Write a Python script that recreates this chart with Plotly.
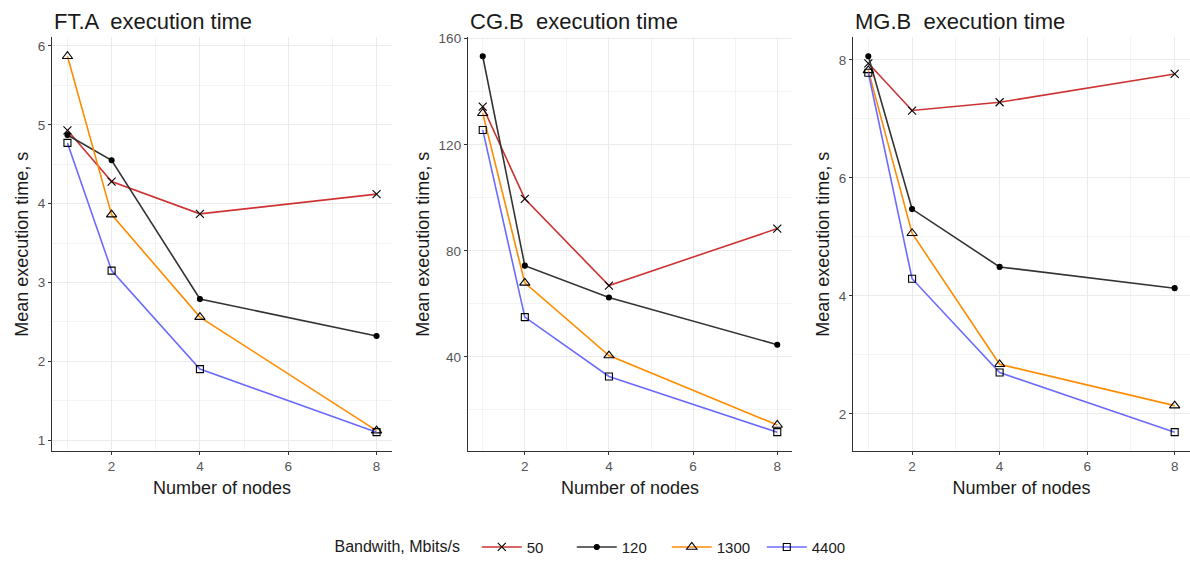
import plotly.graph_objects as go

nodes = [1, 2, 4, 8]
bandwidths = ["50", "120", "1300", "4400"]

# FT.A
ft_50 = [4.93, 4.28, 3.87, 4.12]
ft_120 = [4.87, 4.55, 2.79, 2.32]
ft_1300 = [5.87, 3.86, 2.56, 1.12]
ft_4400 = [4.77, 3.15, 1.90, 1.10]
# CG.B
cg_50 = [134.4, 99.6, 66.9, 88.4]
cg_120 = [153.4, 74.4, 62.4, 44.6]
cg_1300 = [131.9, 67.9, 40.5, 14.3]
cg_4400 = [125.6, 55.0, 32.6, 11.6]
# MG.B
mg_50 = [7.94, 7.14, 7.28, 7.76]
mg_120 = [8.06, 5.47, 4.49, 4.13]
mg_1300 = [7.82, 5.06, 2.84, 2.14]
mg_4400 = [7.78, 4.29, 2.70, 1.69]

panels = [
    ("FT.A  execution time", [ft_50, ft_120, ft_1300, ft_4400], [1, 2, 3, 4, 5, 6], [1.5, 2.5, 3.5, 4.5, 5.5]),
    ("CG.B  execution time", [cg_50, cg_120, cg_1300, cg_4400], [40, 80, 120, 160], [20, 60, 100, 140]),
    ("MG.B  execution time", [mg_50, mg_120, mg_1300, mg_4400], [2, 4, 6, 8], [3, 5, 7]),
]

line_colors = ["#CD3333", "#333333", "#FF8C00", "#6B6BFF"]
symbols = ["x-thin-open", "circle", "triangle-up-open", "square-open"]
msizes = [8, 5, 9, 7]

x_domains = [[52 / 1190, 392 / 1190], [468 / 1190, 792 / 1190], [853 / 1190, 1.0]]
y_domain = [1 - 453 / 564, 1 - 32 / 564]

fig = go.Figure()
FONT = "Liberation Sans, Arial, sans-serif"

for p, (title, series, yticks, yminor) in enumerate(panels):
    xa = "x" if p == 0 else f"x{p+1}"
    ya = "y" if p == 0 else f"y{p+1}"
    allv = [v for s in series for v in s]
    lo, hi = min(allv), max(allv)
    pad = 0.05 * (hi - lo)
    for i, s in enumerate(series):
        fig.add_trace(go.Scatter(
            x=nodes, y=s, mode="lines+markers", name=bandwidths[i],
            legendgroup=bandwidths[i], showlegend=(p == 0),
            xaxis=xa, yaxis=ya, cliponaxis=False,
            line=dict(color=line_colors[i], width=1.6),
            marker=dict(symbol=symbols[i], size=msizes[i], color="black",
                        line=dict(color="black", width=1.1)),
        ))
    axkey = "xaxis" if p == 0 else f"xaxis{p+1}"
    aykey = "yaxis" if p == 0 else f"yaxis{p+1}"
    fig.update_layout({
        axkey: dict(
            domain=x_domains[p], anchor=ya, range=[0.65, 8.35],
            tickvals=[2, 4, 6, 8], showline=True, linecolor="#333333", linewidth=1.3,
            ticks="outside", ticklen=3, tickcolor="#333333", tickwidth=1,
            showgrid=True, gridcolor="#EBEBEB", gridwidth=1.1, zeroline=False,
            minor=dict(tickvals=[1, 3, 5, 7], showgrid=True, gridcolor="#F3F3F3", gridwidth=0.6, ticks=""),
            tickfont=dict(family=FONT, size=13.5, color="#555555"),
            title=dict(text="Number of nodes", font=dict(family=FONT, size=18, color="#1a1a1a"), standoff=8),
        ),
        aykey: dict(
            domain=y_domain, anchor=xa, range=[lo - pad, hi + pad],
            tickvals=yticks, showline=True, linecolor="#333333", linewidth=1.3,
            ticks="outside", ticklen=3, tickcolor="#333333", tickwidth=1,
            showgrid=True, gridcolor="#EBEBEB", gridwidth=1.1, zeroline=False,
            minor=dict(tickvals=yminor, showgrid=True, gridcolor="#F3F3F3", gridwidth=0.6, ticks=""),
            tickfont=dict(family=FONT, size=13.5, color="#555555"),
            title=dict(text="Mean execution time, s", font=dict(family=FONT, size=18, color="#1a1a1a"), standoff=4),
        ),
    })
    fig.add_annotation(text=title, xref="paper", yref="paper",
                       x=x_domains[p][0], y=1 - 16 / 564, xanchor="left", yanchor="middle",
                       showarrow=False, font=dict(family=FONT, size=22, color="#1a1a1a"))

fig.update_layout(
    width=1190, height=564,
    margin=dict(l=0, r=0, t=0, b=0),
    paper_bgcolor="white", plot_bgcolor="white",
    legend=dict(orientation="h", x=0.5, xanchor="center", y=1 - 551 / 564, yanchor="middle",
                title=dict(text="Bandwith, Mbits/s  ", font=dict(family=FONT, size=16, color="#1a1a1a")),
                font=dict(family=FONT, size=15, color="#1a1a1a"), itemwidth=40,
                entrywidth=40, entrywidthmode="pixels"),
)

fig.write_html("out.html", config={"displayModeBar": False},
               post_script="document.body.style.margin='0';document.body.style.overflow='hidden';")
